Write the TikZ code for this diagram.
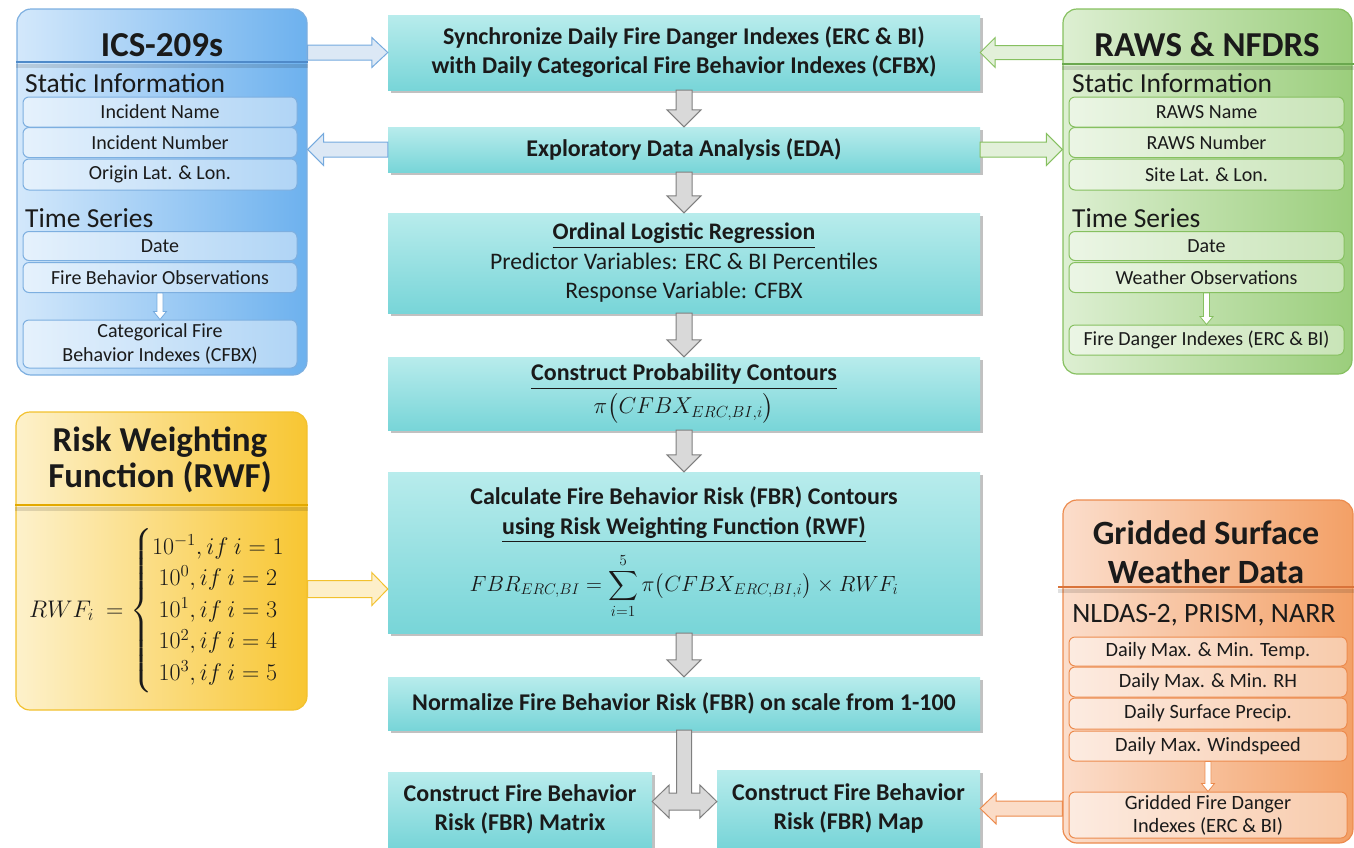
\RequirePackage{fix-cm}
\documentclass[tikz,border=0pt]{standalone}
\usepackage{amsmath}
\usepackage{fontspec}
\setmainfont{Carlito}
\usetikzlibrary{calc,shadows}

\definecolor{tealtop}{HTML}{B8ECEC}
\definecolor{tealbot}{HTML}{78D5D8}
\definecolor{bluel}{HTML}{D3E8FB}
\definecolor{bluer}{HTML}{6DB1EE}
\definecolor{blued}{HTML}{5D9BD8}
\definecolor{bluesep}{HTML}{4F8AC9}
\definecolor{bluearr}{HTML}{DCE8F5}
\definecolor{greenl}{HTML}{DDEFD2}
\definecolor{greenr}{HTML}{9BCE7C}
\definecolor{greend}{HTML}{86C060}
\definecolor{greensep}{HTML}{6AA84F}
\definecolor{greenarr}{HTML}{E2F0D9}
\definecolor{yell}{HTML}{FDF1CB}
\definecolor{yelr}{HTML}{F8C632}
\definecolor{yeld}{HTML}{F2C12E}
\definecolor{yelsep}{HTML}{E3A900}
\definecolor{yelarr}{HTML}{FDEFC9}
\definecolor{orl}{HTML}{FBDDCB}
\definecolor{orr}{HTML}{F3A066}
\definecolor{ord}{HTML}{EC8B4E}
\definecolor{orsep}{HTML}{D9733A}
\definecolor{orarr}{HTML}{FBDCC7}
\definecolor{grayf}{HTML}{D9D9D9}
\definecolor{grayd}{HTML}{7F7F7F}
\definecolor{txt}{HTML}{1A1A1A}

\newcommand{\blockarrow}[6]{%
  \coordinate (bah) at ($(#3)!#6!(#2)$);
  \draw[#1] ($(#2)!#4!90:(#3)$) -- ($(bah)!#4!-90:(#2)$) -- ($(bah)!#5!-90:(#2)$)
    -- (#3) -- ($(bah)!#5!90:(#2)$) -- ($(bah)!#4!90:(#2)$) -- ($(#2)!#4!-90:(#3)$) -- cycle;
}

\begin{document}
\begin{tikzpicture}[x=1pt,y=-1pt,
  every node/.style={text=txt},
  proc/.style={top color=tealtop, bottom color=tealbot, draw=none, align=center,
     inner sep=0pt, minimum width=592pt,
     drop shadow={shadow xshift=2.5pt, shadow yshift=-2.5pt, opacity=0.35, fill=black!70},
     font=\fontsize{24}{29}\selectfont},
  bigbox/.style={rounded corners=14pt, line width=1.2pt, inner sep=0pt},
  subbox/.style={rounded corners=6pt, line width=1pt, fill=white, fill opacity=0.45,
     text opacity=1, inner sep=0pt, align=center, font=\fontsize{20}{25}\selectfont},
  sectlabel/.style={anchor=west, inner sep=0pt, font=\fontsize{27.5}{30}\selectfont},
  title/.style={inner sep=0pt, align=center, font=\fontsize{35}{40}\selectfont\bfseries},
  grayarrow/.style={fill=grayf, draw=grayd, line width=1pt},
  bluearrow/.style={fill=bluearr, draw=blued!85, line width=1pt},
  greenarrow/.style={fill=greenarr, draw=greend, line width=1pt},
  yelarrow/.style={fill=yelarr, draw=yeld, line width=1pt},
  orarrow/.style={fill=orarr, draw=ord, line width=1pt},
]
\useasboundingbox (0,0) rectangle (1354,847);

% ---------------- big coloured boxes ----------------
\node[bigbox, left color=bluel, right color=bluer, draw=blued!80,
  minimum width=290pt, minimum height=366pt] (ics) at (162,192) {};
\node[bigbox, left color=greenl, right color=greenr, draw=greend,
  minimum width=289pt, minimum height=365pt] (raws) at (1207.5,191.5) {};
\node[bigbox, left color=yell, right color=yelr, draw=yeld,
  minimum width=291pt, minimum height=298pt] (rwf) at (161.5,561) {};
\node[bigbox, left color=orl, right color=orr, draw=ord,
  minimum width=290pt, minimum height=343pt] (gsw) at (1208,671.5) {};

% separators
\draw[black, opacity=0.12, line width=4pt] (ics.west |- 0,66) -- (ics.east |- 0,66);
\draw[bluesep, line width=2.5pt] (ics.west |- 0,62) -- (ics.east |- 0,62);
\draw[black, opacity=0.12, line width=4pt] (raws.west |- 0,68) -- (1354,68);
\draw[greensep, line width=2.5pt] (raws.west |- 0,64) -- (1354,64);
\draw[black, opacity=0.12, line width=4pt] (rwf.west |- 0,509) -- (rwf.east |- 0,509);
\draw[yelsep, line width=2.5pt] (rwf.west |- 0,505) -- (rwf.east |- 0,505);
\draw[black, opacity=0.12, line width=4pt] (1058,591) -- (gsw.east |- 0,591);
\draw[orsep, line width=2.5pt] (1058,587) -- (gsw.east |- 0,587);

% titles
\node[title] (icsT) at (162,45) {ICS-209s};
\node[title] (rawsT) at (1207,45) {RAWS \& NFDRS};
\node[title, font=\fontsize{35}{36}\selectfont\bfseries] (rwfT) at (160,460) {Risk Weighting\\Function (RWF)};
\node[title, font=\fontsize{34}{39}\selectfont\bfseries] (gswT) at (1206,552) {Gridded Surface\\Weather Data};

% ---------------- ICS-209s contents ----------------
\node[sectlabel] (icsS) at (25,83) {Static Information};
\node[subbox, draw=blued!80, minimum width=274pt, minimum height=30pt] (iname) at (160,112) {Incident Name};
\node[subbox, draw=blued!80, minimum width=274pt, minimum height=30pt] (inum) at (160,142.5) {Incident Number};
\node[subbox, draw=blued!80, minimum width=274pt, minimum height=31pt] (iorig) at (160,174.5) {Origin Lat. \& Lon.};
\node[sectlabel] (icsTS) at (25,218) {Time Series};
\node[subbox, draw=blued!80, minimum width=274pt, minimum height=29pt] (idate) at (160,246) {Date};
\node[subbox, draw=blued!80, minimum width=274pt, minimum height=30pt] (ifbo) at (160,277.5) {Fire Behavior Observations};
\node[subbox, draw=blued!80, minimum width=274pt, minimum height=48pt, font=\fontsize{20}{24}\selectfont] (icfbx) at (160,344) {Categorical Fire\\Behavior Indexes (CFBX)};
\blockarrow{bluearrow, line width=0.8pt, fill=white}{ifbo.south}{icfbx.north}{3pt}{6.5pt}{8pt}

% ---------------- RAWS contents ----------------
\node[sectlabel] (rawsS) at (1072,83) {Static Information};
\node[subbox, draw=greend, minimum width=275pt, minimum height=30pt] (rname) at (1206.5,112) {RAWS Name};
\node[subbox, draw=greend, minimum width=275pt, minimum height=30pt] (rnum) at (1206.5,142.5) {RAWS Number};
\node[subbox, draw=greend, minimum width=275pt, minimum height=31pt] (rsite) at (1206.5,174.5) {Site Lat. \& Lon.};
\node[sectlabel] (rawsTS) at (1072,218) {Time Series};
\node[subbox, draw=greend, minimum width=275pt, minimum height=29pt] (rdate) at (1206.5,246) {Date};
\node[subbox, draw=greend, minimum width=275pt, minimum height=30pt] (rwobs) at (1206.5,277.5) {Weather Observations};
\node[subbox, draw=greend, minimum width=275pt, minimum height=30pt] (rfdi) at (1206.5,340) {Fire Danger Indexes (ERC \& BI)};
\blockarrow{greenarrow, line width=0.8pt, fill=white}{rwobs.south}{rfdi.north}{3pt}{6.5pt}{8pt}

% ---------------- RWF contents ----------------
\node[inner sep=0pt, font=\fontsize{24}{28}\selectfont] (rwfF) at (157,611)
  {$RWF_i\ =\left\{\renewcommand{\arraystretch}{1.13}\begin{array}{@{}c@{}}
     10^{-1}, if\ i=1\\ 10^{0}, if\ i=2\\ 10^{1}, if\ i=3\\ 10^{2}, if\ i=4\\ 10^{3}, if\ i=5
   \end{array}\right.$};

% ---------------- Gridded surface contents ----------------
\node[inner sep=0pt, font=\fontsize{28}{30}\selectfont] (gswS) at (1204,615) {NLDAS-2, PRISM, NARR};
\node[subbox, draw=ord, minimum width=278pt, minimum height=29pt, font=\fontsize{20.3}{24}\selectfont] (gtemp) at (1208,651.5) {Daily Max. \& Min. Temp.};
\node[subbox, draw=ord, minimum width=278pt, minimum height=30pt, font=\fontsize{20.3}{24}\selectfont] (grh) at (1208,682) {Daily Max. \& Min. RH};
\node[subbox, draw=ord, minimum width=278pt, minimum height=31pt, font=\fontsize{20.3}{24}\selectfont] (gprec) at (1208,713.5) {Daily Surface Precip.};
\node[subbox, draw=ord, minimum width=278pt, minimum height=30pt, font=\fontsize{20.3}{24}\selectfont] (gwind) at (1208,746) {Daily Max. Windspeed};
\node[subbox, draw=ord, minimum width=278pt, minimum height=46pt, font=\fontsize{20.3}{23}\selectfont] (gfdi) at (1208,815) {Gridded Fire Danger\\Indexes (ERC \& BI)};
\blockarrow{orarrow, line width=0.8pt, fill=white}{gwind.south}{gfdi.north}{3pt}{6.5pt}{8pt}

% ---------------- central process boxes ----------------
\node[proc, minimum height=75pt, font=\fontsize{24}{29}\selectfont\bfseries] (sync) at (684,52.5)
  {Synchronize Daily Fire Danger Indexes (ERC \& BI)\\with Daily Categorical Fire Behavior Indexes (CFBX)};
\node[proc, minimum height=45pt, font=\fontsize{24}{29}\selectfont\bfseries] (eda) at (684,149.5)
  {Exploratory Data Analysis (EDA)};
\node[proc, minimum height=100pt, font=\fontsize{23.7}{29.5}\selectfont] (olr) at (684,263)
  {\underline{\textbf{Ordinal Logistic Regression}}\\Predictor Variables: ERC \& BI Percentiles\\Response Variable: CFBX};
\node[proc, minimum height=73pt, font=\fontsize{24}{33}\selectfont] (cpc) at (684,393.5)
  {\underline{\textbf{Construct Probability Contours}}\\{\fontsize{23}{28}\selectfont$\pi\big(CFBX_{ERC,BI,i}\big)$}};
\node[proc, minimum height=161pt, font=\fontsize{24}{30}\selectfont] (calc) at (684,552.5)
  {\textbf{Calculate Fire Behavior Risk (FBR) Contours}\\\underline{\textbf{using Risk Weighting Function (RWF)}}\\[9pt]
   {\fontsize{22}{26}\selectfont$\displaystyle FBR_{ERC,BI} = \sum_{i=1}^{5}\pi\big(CFBX_{ERC,BI,i}\big)\times RWF_i$}};
\node[proc, minimum height=53pt, font=\fontsize{24}{29}\selectfont\bfseries] (norm) at (684,703.5)
  {Normalize Fire Behavior Risk (FBR) on scale from 1-100};
\node[proc, minimum width=264pt, minimum height=75pt, font=\fontsize{24}{29}\selectfont\bfseries] (matrix) at (520,809.5)
  {Construct Fire Behavior\\Risk (FBR) Matrix};
\node[proc, minimum width=263pt, minimum height=77pt, font=\fontsize{24}{29}\selectfont\bfseries] (map) at (848.5,808.5)
  {Construct Fire Behavior\\Risk (FBR) Map};

% ---------------- connectors ----------------
\blockarrow{grayarrow}{sync.south}{eda.north}{8pt}{17pt}{17pt}
\blockarrow{grayarrow}{eda.south}{olr.north}{8pt}{17pt}{17pt}
\blockarrow{grayarrow}{olr.south}{cpc.north}{8pt}{17pt}{17pt}
\blockarrow{grayarrow}{cpc.south}{calc.north}{8pt}{17pt}{17pt}
\blockarrow{grayarrow}{calc.south}{norm.north}{8pt}{17pt}{17pt}

\draw[grayarrow] let \p1=(norm.south), \p2=($(matrix.east)+(0,-8)$), \p3=(map.west) in
  (\x1-7.5pt,\y1) -- (\x1-7.5pt,\y2+8.5pt) -- (\x2+17pt,\y2+8.5pt) -- (\x2+17pt,\y2+16.5pt)
  -- (\x2,\y2) -- (\x2+17pt,\y2-16.5pt) -- (\x2+17pt,\y2-8.5pt) -- (\x3-17pt,\y2-8.5pt)
  -- (\x3-17pt,\y2-16.5pt) -- (\x3,\y2) -- (\x3-17pt,\y2+16.5pt) -- (\x3-17pt,\y2+8.5pt)
  -- (\x1+7.5pt,\y2+8.5pt) -- (\x1+7.5pt,\y1) -- cycle;

\coordinate (a1) at (ics.east |- sync.west);
\blockarrow{bluearrow}{a1}{sync.west}{7.5pt}{15pt}{16pt}
\coordinate (a2) at (ics.east |- eda.west);
\blockarrow{bluearrow}{eda.west}{a2}{7.5pt}{16pt}{16pt}
\coordinate (a3) at (raws.west |- sync.east);
\blockarrow{greenarrow}{a3}{sync.east}{7pt}{15pt}{15pt}
\coordinate (a4) at (raws.west |- eda.east);
\blockarrow{greenarrow}{eda.east}{a4}{7.5pt}{16pt}{16pt}
\coordinate (a5) at ($(rwf.east)+(0,28)$);
\coordinate (a6) at (calc.west |- a5);
\blockarrow{yelarrow}{a5}{a6}{8.5pt}{16.5pt}{16pt}
\coordinate (a7) at (gsw.west |- map.east);
\blockarrow{orarrow}{a7}{map.east}{7.5pt}{15.5pt}{16pt}

\end{tikzpicture}
\end{document}
